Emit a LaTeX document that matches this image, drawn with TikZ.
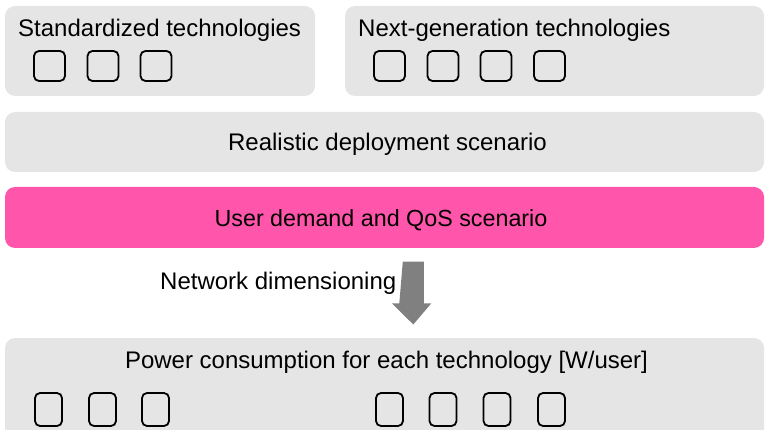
\documentclass[tikz,border=0pt]{standalone}
\usepackage{fontspec}
\setmainfont{Liberation Sans}
\definecolor{boxgray}{HTML}{E5E5E5}
\definecolor{qospink}{HTML}{FF55AA}
\definecolor{arrowgray}{HTML}{808080}
\begin{document}
\begin{tikzpicture}[x=1pt,y=-1pt,
  panel/.style={draw=none,fill=boxgray,rounded corners=10pt,inner sep=0pt},
  label/.style={inner sep=0pt,font=\fontsize{24}{28}\selectfont},
  tsq/.style={draw=black,line width=1.8pt,rounded corners=5pt,fill=none,inner sep=0pt,minimum width=31pt,minimum height=30pt},
  bsq/.style={draw=black,line width=1.8pt,rounded corners=5pt,fill=none,inner sep=0pt,minimum width=27pt,minimum height=33pt}]
\useasboundingbox (0,0) rectangle (765,430);
% panels
\node[panel,minimum width=310pt,minimum height=90pt] (std) at (160,51) {};
\node[panel,minimum width=419pt,minimum height=90pt] (next) at (554.5,51) {};
\node[panel,minimum width=759pt,minimum height=60pt] (real) at (384.5,142) {};
\node[panel,fill=qospink,minimum width=759pt,minimum height=61pt] (qos) at (384.5,217.5) {};
\node[panel,minimum width=759pt,minimum height=110pt] (power) at (384.5,393) {};
% texts
\node[label,anchor=base west] (tstd) at (18,36.7) {Standardized technologies};
\node[label,anchor=base west] (tnext) at (358,36.7) {Next-generation technologies};
\node[label,anchor=base] (treal) at (387.5,151) {Realistic deployment scenario};
\node[label,anchor=base,font=\fontsize{23.3}{28}\selectfont] (tqos) at (381,226.7) {User demand and QoS scenario};
\node[label,anchor=base west] (tnet) at (160,289.3) {Network dimensioning};
\node[label,anchor=base] (tpow) at (386.5,368.3) {Power consumption for each technology [W/user]};
% top squares
\node[tsq] (s1) at (49.5,66) {};
\node[tsq] (s2) at (103,66) {};
\node[tsq] (s3) at (156,66) {};
\node[tsq] (n1) at (389.5,66) {};
\node[tsq] (n2) at (443,66) {};
\node[tsq] (n3) at (496,66) {};
\node[tsq] (n4) at (549.5,66) {};
% bottom squares
\node[bsq] (b1) at (48.5,409.5) {};
\node[bsq] (b2) at (102.5,409.5) {};
\node[bsq] (b3) at (155.5,409.5) {};
\node[bsq] (b4) at (389.5,409.5) {};
\node[bsq] (b5) at (443,409.5) {};
\node[bsq] (b6) at (497,409.5) {};
\node[bsq] (b7) at (551.5,409.5) {};
% arrow
\coordinate (atop) at (413.3,261.7);
\coordinate (atip) at (413.3,324.5);
\fill[arrowgray] (atop) ++(-10.5,0) -- ++(21,0) -- ++(0,41.6) -- ++(7.5,0) -- (atip) -- ++(-21.5,-21.2) -- ++(7.5,0) -- cycle;
\end{tikzpicture}
\end{document}
